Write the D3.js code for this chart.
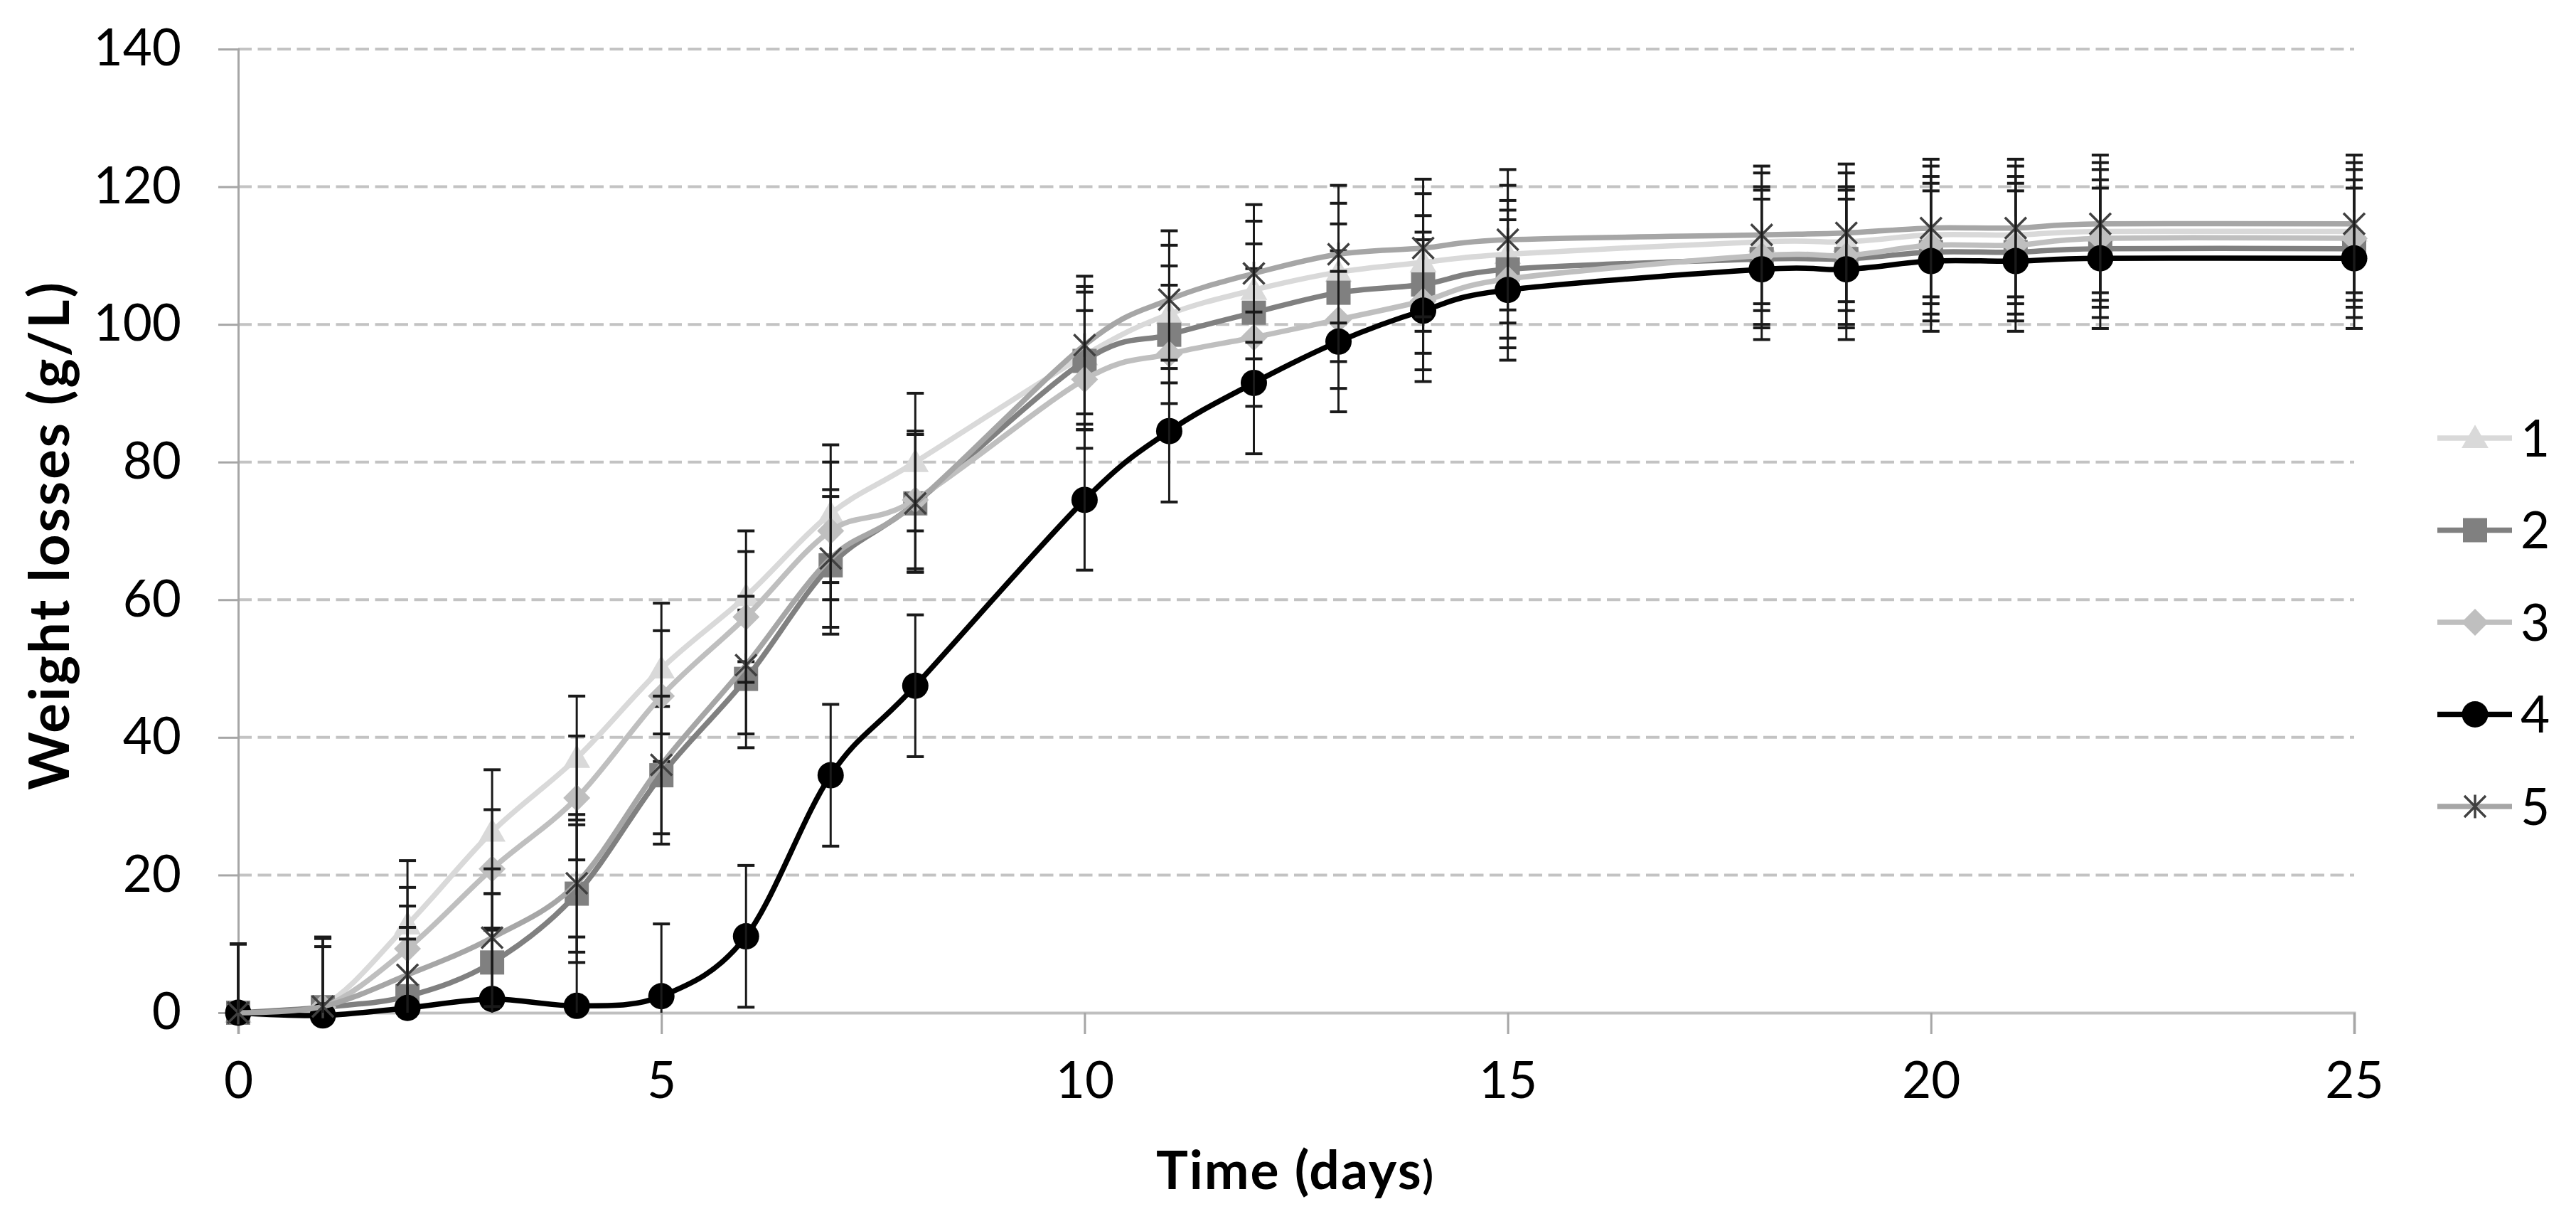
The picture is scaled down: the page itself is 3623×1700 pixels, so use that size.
<!DOCTYPE html>
<html>
<head>
<meta charset="utf-8">
<script src="https://cdn.jsdelivr.net/npm/d3@7"></script>
<style>
  html, body { margin: 0; padding: 0; background: #fff; }
  svg { display: block; }
</style>
</head>
<body>
<svg id="chart" width="3623" height="1700"></svg>
<script>
// ---------------- data ----------------
const days = [0, 1, 2, 3, 4, 5, 6, 7, 8, 10, 11, 12, 13, 14, 15, 18, 19, 20, 21, 22, 25];
const seriesNames = ["1", "2", "3", "4", "5"];
const s1 = [0, 1, 12.8, 26.3, 37, 50, 60.5, 72.5, 80, 95.5, 101.5, 105, 107.6, 109, 110.2, 112, 112, 113, 113, 113.5, 113.5];
const s2 = [0, 0.8, 2.4, 7.3, 17.3, 34.5, 48.5, 65, 74, 94.7, 98.5, 101.7, 104.6, 105.8, 108, 109.5, 109.5, 110.5, 110.5, 111, 111];
const s3 = [0, 0.8, 9.3, 20.9, 31.2, 46, 57.5, 70, 74.5, 92, 95.7, 98.1, 100.7, 103.4, 106.6, 110, 110, 111.5, 111.5, 112.5, 112.5];
const s4 = [0, -0.4, 0.7, 2.0, 1.0, 2.4, 11.1, 34.5, 47.5, 74.5, 84.5, 91.5, 97.5, 102, 105, 108, 108, 109.2, 109.2, 109.6, 109.6];
const s5 = [0, 0.9, 5.5, 10.9, 18.8, 36, 50.5, 66, 74, 97, 103.6, 107.4, 110.2, 111.1, 112.3, 113, 113.3, 114, 114, 114.6, 114.6];
const e1 = [10, 10, 9.3, 9, 9, 9.5, 9.5, 10, 10, 10, 10, 10, 10, 10, 10, 10, 10, 10, 10, 10, 10];
const e2 = [10, 10, 10, 10, 10, 10, 10, 10, 10, 10, 10, 10, 10, 10, 10, 10, 10, 10, 10, 10, 10];
const e3 = [10, 10, 8.9, 8.6, 9, 9.5, 9.5, 10, 10, 10, 10, 10, 10, 10, 10, 10, 10, 10, 10, 10, 10];
const e4 = [10, 10, 10, 10, 10, 10.5, 10.3, 10.3, 10.3, 10.2, 10.3, 10.3, 10.2, 10.3, 10.2, 10.2, 10.2, 10.2, 10.2, 10.2, 10.2];
const e5 = [10, 10, 10, 10, 10, 10, 10, 10, 10, 10, 10, 10, 10, 10, 10.2, 10, 10, 10, 10, 10, 10];
const xTicks = [0, 5, 10, 15, 20, 25];
const yTicks = [0, 20, 40, 60, 80, 100, 120, 140];
const xTitle = "Time (days";
const xTitleEnd = ")";
const yTitle = "Weight losses (g/L)";

// ---------------- styles ----------------
const styles = [
  { line: "#d9d9d9", fill: "#d9d9d9", marker: "triangle" },
  { line: "#808080", fill: "#808080", marker: "square" },
  { line: "#bfbfbf", fill: "#bfbfbf", marker: "diamond" },
  { line: "#000000", fill: "#000000", marker: "circle" },
  { line: "#a6a6a6", fill: "#404040", marker: "star" }
];
const values = [s1, s2, s3, s4, s5];
const errors = [e1, e2, e3, e4, e5];

const FONT = "Lato, 'Open Sans', sans-serif";
const svg = d3.select("#chart");
svg.append("rect").attr("width", 3623).attr("height", 1700).attr("fill", "#fff");

const x = d3.scaleLinear().domain([0, 25]).range([335, 3311]);
const y = d3.scaleLinear().domain([0, 140]).range([1424, 69]);

// gridlines
const grid = svg.append("g");
grid.selectAll("line.g").data(yTicks.filter(d => d > 0)).join("line")
  .attr("x1", x(0)).attr("x2", x(25))
  .attr("y1", d => y(d)).attr("y2", d => y(d))
  .attr("stroke", "#c3c3c3").attr("stroke-width", 4)
  .attr("stroke-dasharray", "19,8.5");

// y axis
const yAxis = d3.axisLeft(y).tickValues(yTicks).tickSize(28).tickPadding(52).tickFormat(d3.format("d"));
const gy = svg.append("g").attr("transform", `translate(${x(0)},0)`).call(yAxis);
gy.select(".domain").attr("stroke", "#a6a6a6").attr("stroke-width", 3);
gy.selectAll(".tick line").attr("stroke", "#a6a6a6").attr("stroke-width", 3);
gy.selectAll(".tick text").attr("font-family", FONT).attr("font-size", 71).attr("fill", "#000");

// x axis
const xAxis = d3.axisBottom(x).tickValues(xTicks).tickSize(30).tickPadding(40).tickFormat(d3.format("d"));
const gx = svg.append("g").attr("transform", `translate(0,${y(0)})`).call(xAxis);
gx.select(".domain").attr("stroke", "#bfbfbf").attr("stroke-width", 4);
gx.selectAll(".tick line").attr("stroke", "#a6a6a6").attr("stroke-width", 3);
gx.selectAll(".tick text").attr("font-family", FONT).attr("font-size", 71).attr("fill", "#000");

// titles
const xt = svg.append("text")
  .attr("x", 1822).attr("y", 1672)
  .attr("text-anchor", "middle")
  .attr("font-family", FONT).attr("font-weight", "bold").attr("font-size", 75)
  .attr("letter-spacing", 2)
  .attr("fill", "#000");
xt.append("tspan").text(xTitle);
xt.append("tspan").attr("font-size", 56).text(xTitleEnd);

svg.append("text")
  .attr("transform", `translate(97,${(y(0) + y(140)) / 2 + 6}) rotate(-90)`)
  .attr("text-anchor", "middle")
  .attr("font-family", FONT).attr("font-weight", "bold").attr("font-size", 78)
  .attr("letter-spacing", 3)
  .attr("fill", "#000")
  .text(yTitle);

// markers
function drawMarker(g, type, cx, cy, st, scale) {
  const s = scale || 1;
  if (type === "triangle") {
    g.append("path").attr("d", d3.symbol(d3.symbolTriangle, 620 * s * s)())
      .attr("transform", `translate(${cx},${cy + 3 * s})`).attr("fill", st.fill);
  } else if (type === "square") {
    const h = 17 * s;
    g.append("rect").attr("x", cx - h).attr("y", cy - h).attr("width", 2 * h).attr("height", 2 * h).attr("fill", st.fill);
  } else if (type === "diamond") {
    const h = 19 * s;
    g.append("path").attr("d", `M${cx},${cy - h}L${cx + h},${cy}L${cx},${cy + h}L${cx - h},${cy}Z`).attr("fill", st.fill);
  } else if (type === "circle") {
    g.append("circle").attr("cx", cx).attr("cy", cy).attr("r", 18.5 * s).attr("fill", st.fill);
  } else if (type === "star") {
    const h = 15 * s;
    const p = `M${cx - h},${cy - h}L${cx + h},${cy + h}M${cx - h},${cy + h}L${cx + h},${cy - h}M${cx},${cy - h * 1.1}L${cx},${cy + h * 1.1}`;
    g.append("path").attr("d", p).attr("stroke", st.fill).attr("stroke-width", 3.5).attr("fill", "none");
  }
}

const clip = svg.append("clipPath").attr("id", "plotclip");
clip.append("rect").attr("x", 0).attr("y", y(140) - 40).attr("width", 3623).attr("height", y(0) - y(140) + 40);

const line = d3.line().x(d => x(d.x)).y(d => y(d.y)).curve(d3.curveCatmullRom.alpha(0));

values.forEach((vals, i) => {
  const st = styles[i];
  const pts = days.map((d, j) => ({ x: d, y: vals[j], e: errors[i][j] }));
  const g = svg.append("g");
  g.append("path").datum(pts).attr("d", line)
    .attr("fill", "none").attr("stroke", st.line).attr("stroke-width", 7.5)
    .attr("stroke-linejoin", "round");
  pts.forEach(p => drawMarker(g, st.marker, x(p.x), y(p.y), st, 1));
  const eg = g.append("g").attr("clip-path", "url(#plotclip)");
  pts.forEach(p => {
    const top = y(p.y + p.e), bot = y(p.y - p.e);
    eg.append("line").attr("x1", x(p.x)).attr("x2", x(p.x)).attr("y1", top).attr("y2", bot)
      .attr("stroke", "#1a1a1a").attr("stroke-width", 3);
    eg.append("line").attr("x1", x(p.x) - 12).attr("x2", x(p.x) + 12).attr("y1", top).attr("y2", top)
      .attr("stroke", "#1a1a1a").attr("stroke-width", 4);
    eg.append("line").attr("x1", x(p.x) - 12).attr("x2", x(p.x) + 12).attr("y1", bot).attr("y2", bot)
      .attr("stroke", "#1a1a1a").attr("stroke-width", 4);
  });
});

// legend
const legend = svg.append("g");
seriesNames.forEach((name, i) => {
  const st = styles[i];
  const ry = 616 + i * 129.5;
  legend.append("line").attr("x1", 3428).attr("x2", 3533).attr("y1", ry).attr("y2", ry)
    .attr("stroke", st.line).attr("stroke-width", 7.5);
  drawMarker(legend, st.marker, 3481, ry, st, 1.0);
  legend.append("text").attr("x", 3545).attr("y", ry).attr("dy", "0.36em")
    .attr("font-family", FONT).attr("font-size", 71).attr("fill", "#000").text(name);
});
</script>
</body>
</html>
